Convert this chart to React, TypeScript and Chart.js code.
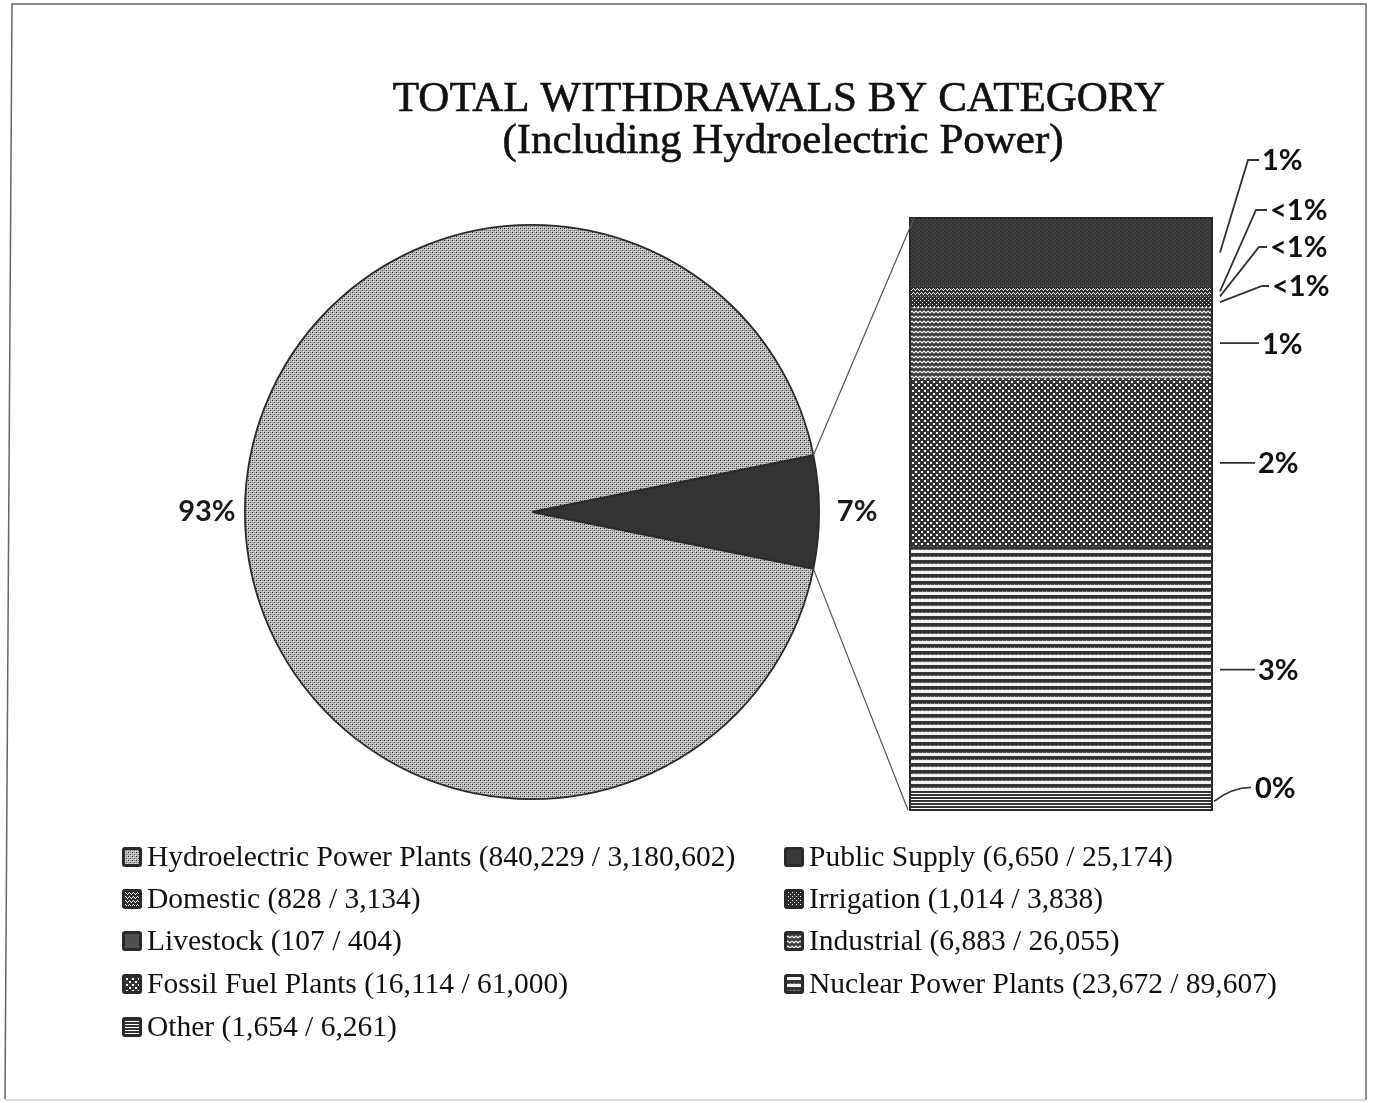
import React, { useEffect, useRef } from "react";
import { Chart, registerables } from "chart.js";

Chart.register(...registerables);

const titleLines = ["TOTAL WITHDRAWALS BY CATEGORY", "(Including Hydroelectric Power)"];

// Legend order (first column 5 items, second column 4 items)
const legendCategories = [
  "Hydroelectric Power Plants",
  "Domestic",
  "Livestock",
  "Fossil Fuel Plants",
  "Other",
  "Public Supply",
  "Irrigation",
  "Industrial",
  "Nuclear Power Plants",
];
const dailyValues = [840229, 828, 107, 16114, 1654, 6650, 1014, 6883, 23672];
const annualValues = [3180602, 3134, 404, 61000, 6261, 25174, 3838, 26055, 89607];

// Pie: the "other uses" wedge and hydroelectric
const pieCategories = ["All other uses", "Hydroelectric Power Plants"];
const pieLabels = ["7%", "93%"];

// Bar of pie, stacked bottom -> top
const barCategories = [
  "Other",
  "Nuclear Power Plants",
  "Fossil Fuel Plants",
  "Industrial",
  "Irrigation",
  "Livestock",
  "Domestic",
  "Public Supply",
];
const barLabels = ["0%", "3%", "2%", "1%", "<1%", "<1%", "<1%", "1%"];

const W = 1377;
const H = 1103;
const SERIF = "'Liberation Serif', 'DejaVu Serif', serif";
const SANS = "Lato, 'Open Sans', sans-serif";

function valueOf(name: string): number {
  return annualValues[legendCategories.indexOf(name)];
}

function tile(ctx: CanvasRenderingContext2D, w: number, h: number, draw: (g: CanvasRenderingContext2D) => void) {
  const c = document.createElement("canvas");
  c.width = w;
  c.height = h;
  const g = c.getContext("2d")!;
  draw(g);
  return ctx.createPattern(c, "repeat")!;
}

function makePatterns(ctx: CanvasRenderingContext2D): Record<string, CanvasPattern | string> {
  const px = (g: CanvasRenderingContext2D, col: string, pts: number[][]) => {
    g.fillStyle = col;
    pts.forEach(([x, y, w = 1, h = 1]) => g.fillRect(x, y, w, h));
  };
  return {
    "Hydroelectric Power Plants": tile(ctx, 4, 4, (g) => {
      g.fillStyle = "#c0c0c0";
      g.fillRect(0, 0, 4, 4);
      px(g, "#2a2a2a", [[0, 0]]);
      px(g, "#4a4a4a", [[2, 2]]);
      px(g, "#8a8a8a", [[2, 0], [0, 2]]);
      px(g, "#dedede", [[1, 1], [3, 3]]);
    }),
    "Public Supply": tile(ctx, 4, 4, (g) => {
      g.fillStyle = "#363636";
      g.fillRect(0, 0, 4, 4);
      px(g, "#555", [[1, 1], [3, 3]]);
    }),
    Domestic: tile(ctx, 4, 4, (g) => {
      g.fillStyle = "#303030";
      g.fillRect(0, 0, 4, 4);
      px(g, "#fff", [[0, 1], [1, 0], [2, 1], [3, 2]]);
    }),
    Livestock: "#4a4a4a",
    Irrigation: tile(ctx, 4, 4, (g) => {
      g.fillStyle = "#2e2e2e";
      g.fillRect(0, 0, 4, 4);
      px(g, "#fff", [[0, 0], [2, 2]]);
    }),
    Industrial: tile(ctx, 8, 5, (g) => {
      g.fillStyle = "#3a3a3a";
      g.fillRect(0, 0, 8, 5);
      g.strokeStyle = "#f4f4f4";
      g.lineWidth = 1.1;
      g.beginPath();
      g.moveTo(0, 1);
      g.lineTo(2, 3);
      g.lineTo(4, 1);
      g.lineTo(6, 3);
      g.lineTo(8, 1);
      g.stroke();
    }),
    "Fossil Fuel Plants": tile(ctx, 6, 6, (g) => {
      g.fillStyle = "#333";
      g.fillRect(0, 0, 6, 6);
      px(g, "#fff", [[0, 0, 2, 2], [3, 3, 2, 2]]);
    }),
    "Nuclear Power Plants": tile(ctx, 4, 7, (g) => {
      g.fillStyle = "#f2f2f2";
      g.fillRect(0, 0, 4, 7);
      px(g, "#333", [[0, 0, 4, 3]]);
      px(g, "#555", [[0, 3, 2, 1], [3, 3, 1, 1]]);
      px(g, "#999", [[2, 3, 1, 1]]);
    }),
    Other: tile(ctx, 1, 3, (g) => {
      g.fillStyle = "#333";
      g.fillRect(0, 0, 1, 3);
      px(g, "#fff", [[0, 1]]);
    }),
  };
}

const fmt = (n: number) => n.toLocaleString("en-US");

export default function App() {
  const pieRef = useRef<HTMLCanvasElement | null>(null);
  const barRef = useRef<HTMLCanvasElement | null>(null);

  useEffect(() => {
    document.body.style.margin = "0";
    const pieCanvas = pieRef.current!;
    const barCanvas = barRef.current!;
    const pctx = pieCanvas.getContext("2d")!;
    const patterns = makePatterns(pctx);
    const barPatterns = makePatterns(barCanvas.getContext("2d")!);

    const hydro = valueOf("Hydroelectric Power Plants");
    const barValues = barCategories.map(valueOf);
    const others = barValues.reduce((a, b) => a + b, 0);
    const pieValues = [others, hydro];
    const wedgeDeg = (others / (others + hydro)) * 360;

    const cx = 532;
    const cy = 512;
    const r = 288;

    const piePlugin = {
      id: "pieDecor",
      afterDraw(chart: any) {
        const ctx: CanvasRenderingContext2D = chart.ctx;
        ctx.save();
        // frame
        ctx.strokeStyle = "#666";
        ctx.lineWidth = 1.5;
        ctx.beginPath();
        ctx.moveTo(5, 1099);
        ctx.lineTo(12, 4);
        ctx.lineTo(1366, 4);
        ctx.lineTo(1366, 1100);
        ctx.stroke();
        ctx.strokeStyle = "#cfcfcf";
        ctx.beginPath();
        ctx.moveTo(5, 1100);
        ctx.lineTo(1366, 1100);
        ctx.stroke();

        // title
        ctx.fillStyle = "#111";
        ctx.strokeStyle = "#111";
        ctx.lineWidth = 0.6;
        ctx.textAlign = "center";
        ctx.textBaseline = "alphabetic";
        ctx.font = `43px ${SERIF}`;
        ctx.fillText(titleLines[0], 779, 111);
        ctx.strokeText(titleLines[0], 779, 111);
        ctx.fillText(titleLines[1], 783, 153);
        ctx.strokeText(titleLines[1], 783, 153);

        // pie labels
        const meta = chart.getDatasetMeta(0);
        ctx.font = `bold 29px ${SANS}`;
        ctx.fillStyle = "#1a1a1a";
        ctx.textBaseline = "middle";
        meta.data.forEach((arc: any, i: number) => {
          const mid = (arc.startAngle + arc.endAngle) / 2;
          const rr = arc.outerRadius + 38;
          ctx.fillText(pieLabels[i], arc.x + Math.cos(mid) * rr, arc.y + Math.sin(mid) * rr);
        });

        // legend
        const rows = [857, 899, 941, 984, 1027];
        ctx.font = `29.5px ${SERIF}`;
        ctx.textAlign = "left";
        legendCategories.forEach((name, i) => {
          const col = i < 5 ? 0 : 1;
          const row = i < 5 ? i : i - 5;
          const sx = col === 0 ? 122 : 784;
          const y = rows[row];
          ctx.fillStyle = "#2a2a2a";
          ctx.beginPath();
          (ctx as any).roundRect(sx, y - 10, 20, 20, 3);
          ctx.fill();
          const p = patterns[name];
          ctx.fillStyle = p as any;
          if (name === "Public Supply") ctx.fillStyle = "#3a3a3a";
          if (name === "Livestock") ctx.fillStyle = "#505050";
          ctx.fillRect(sx + 3, y - 7, 14, 14);
          ctx.fillStyle = "#111";
          ctx.fillText(`${name} (${fmt(dailyValues[i])} / ${fmt(annualValues[i])})`, sx + 25, y + 1);
        });
        ctx.restore();
      },
    };

    const pieChart = new Chart(pieCanvas, {
      type: "pie",
      data: {
        labels: pieCategories,
        datasets: [
          {
            data: pieValues,
            backgroundColor: ["#333333", patterns["Hydroelectric Power Plants"] as any],
            borderColor: "#2a2a2a",
            borderWidth: 1.8,
          },
        ],
      },
      options: {
        animation: false,
        responsive: false,
        devicePixelRatio: 1,
        rotation: 90 - wedgeDeg / 2,
        layout: { padding: { left: cx - r, right: W - (cx + r), top: cy - r, bottom: H - (cy + r) } },
        plugins: { legend: { display: false }, tooltip: { enabled: false }, title: { display: false } },
      },
      plugins: [piePlugin],
    });

    const barPlugin = {
      id: "barDecor",
      afterDatasetsDraw(chart: any) {
        const ctx: CanvasRenderingContext2D = chart.ctx;
        const els = barCategories.map((_, d) => chart.getDatasetMeta(d).data[0]);
        const left = els[0].x - els[0].width / 2;
        const right = els[0].x + els[0].width / 2;
        const bottom = els[0].base;
        const top = els[els.length - 1].y;
        ctx.save();
        // outline
        ctx.strokeStyle = "#2a2a2a";
        ctx.lineWidth = 2;
        ctx.strokeRect(left, top, right - left, bottom - top);

        // connectors from pie wedge to bar
        const arc: any = pieChart.getDatasetMeta(0).data[0];
        ctx.strokeStyle = "#555";
        ctx.lineWidth = 1.2;
        ctx.beginPath();
        ctx.moveTo(arc.x + Math.cos(arc.startAngle) * arc.outerRadius, arc.y + Math.sin(arc.startAngle) * arc.outerRadius);
        ctx.lineTo(left + 4, top);
        ctx.moveTo(arc.x + Math.cos(arc.endAngle) * arc.outerRadius, arc.y + Math.sin(arc.endAngle) * arc.outerRadius);
        ctx.lineTo(left - 2, bottom);
        ctx.stroke();

        // leaders & labels (top -> bottom)
        ctx.font = `bold 29px ${SANS}`;
        ctx.textBaseline = "middle";
        ctx.textAlign = "left";
        const n = els.length;
        const stackedOffsets = [-58, -8, 29, 68];
        const elbowDx = [36, 44, 47, 50];
        const textDx = [50, 58, 58, 60];
        for (let t = 0; t < n; t++) {
          const d = n - 1 - t;
          const el = els[d];
          const mid = (el.y + el.base) / 2;
          ctx.strokeStyle = "#333";
          ctx.lineWidth = 1.8;
          ctx.fillStyle = "#111";
          ctx.beginPath();
          let ly = mid;
          let tx = right + 46;
          if (t < 4) {
            ly = top + stackedOffsets[t];
            tx = right + textDx[t];
            ctx.moveTo(right + 8, mid);
            ctx.lineTo(right + elbowDx[t], ly);
            ctx.lineTo(tx - 3, ly);
          } else if (t === n - 1) {
            ly = mid - 14;
            tx = right + 43;
            ctx.moveTo(right + 2, mid);
            ctx.quadraticCurveTo(right + 20, ly, tx - 4, ly);
          } else {
            tx = t === 4 ? right + 50 : right + 46;
            ctx.moveTo(right + 8, mid);
            ctx.lineTo(tx - 3, ly);
          }
          ctx.stroke();
          ctx.fillText(barLabels[d], tx, ly + 1);
        }
        ctx.restore();
      },
    };

    const barChart = new Chart(barCanvas, {
      type: "bar",
      data: {
        labels: ["All other uses"],
        datasets: barCategories.map((name, i) => ({
          label: name,
          data: [barValues[i]],
          backgroundColor: barPatterns[name] as any,
          borderWidth: 0,
          barPercentage: 1,
          categoryPercentage: 1,
        })),
      },
      options: {
        animation: false,
        responsive: false,
        devicePixelRatio: 1,
        layout: { padding: { left: 910, right: W - 1212, top: 218, bottom: H - 810 } },
        scales: {
          x: { stacked: true, display: false },
          y: { stacked: true, display: false, min: 0, max: others },
        },
        plugins: { legend: { display: false }, tooltip: { enabled: false }, title: { display: false } },
      },
      plugins: [barPlugin],
    });

    return () => {
      barChart.destroy();
      pieChart.destroy();
    };
  }, []);

  return (
    <div style={{ position: "relative", width: W, height: H, overflow: "hidden", background: "#fff" }}>
      <canvas ref={pieRef} width={W} height={H} style={{ position: "absolute", left: 0, top: 0, width: W, height: H }} />
      <canvas
        ref={barRef}
        width={W}
        height={H}
        style={{ position: "absolute", left: 0, top: 0, width: W, height: H, pointerEvents: "none" }}
      />
    </div>
  );
}
